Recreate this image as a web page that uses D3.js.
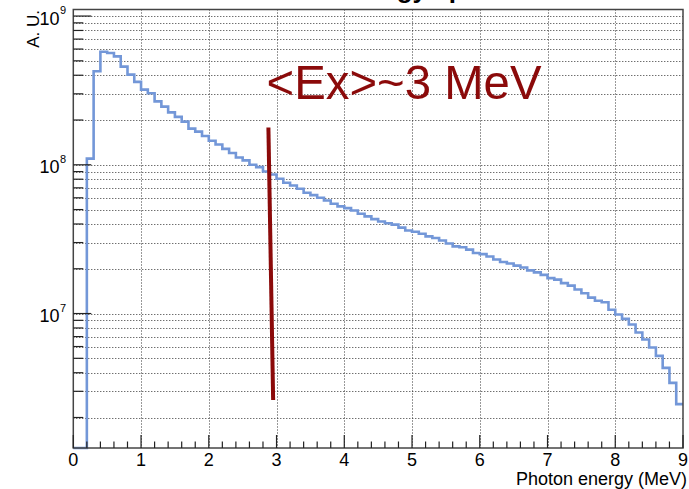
<!DOCTYPE html>
<html>
<head>
<meta charset="utf-8">
<script src="https://cdn.jsdelivr.net/npm/d3@7"></script>
<style>
  body { margin: 0; background: #fff; }
  text { font-family: "Liberation Sans", Arial, sans-serif; }
</style>
</head>
<body>
<script>
// histogram: 90 bins of 0.1 MeV from 0 to 9, counts in units of 1e6
var binWidth = 0.1;
var counts = [
    0, 0, 110, 425, 576, 565, 536, 457, 404, 361,
    320, 303, 267, 246, 225, 210, 195, 175, 167, 156,
    145, 137, 128, 120, 112, 107, 100, 96.4, 90.2, 86.1,
    80.5, 75.7, 72.6, 69.0, 64.9, 62.5, 60.1, 57.6, 54.7, 52.5,
    51.1, 49.3, 46.9, 45.0, 43.1, 41.6, 40.5, 39.6, 37.8, 36.2,
    35.5, 34.4, 33.0, 32.2, 31.0, 29.6, 28.3, 27.9, 26.9, 25.5,
    25.1, 24.2, 23.1, 22.2, 21.7, 21.0, 20.4, 19.5, 18.9, 18.2,
    17.3, 16.9, 16.0, 15.4, 14.5, 13.7, 12.8, 12.2, 11.9, 10.6,
    9.85, 9.21, 8.44, 7.45, 6.69, 5.91, 5.19, 4.31, 3.42, 2.46
];
var countScale = 1e6;

var xTicks = [0, 1, 2, 3, 4, 5, 6, 7, 8, 9];
var yDecades = [7, 8, 9];

// the <Ex> marker and its label
var markerX = [2.88, 2.95];
var markerY = [1.78e8, 2.62e6];
var markerLabel = "<Ex>~3 MeV";

var width = 689,
    height = 489;

var x = d3.scaleLinear()
    .domain([0, 9])
    .range([73.3, 683]);

var y = d3.scaleLog()
    .domain([Math.pow(10, 6.096), Math.pow(10, 9.044)])
    .range([448, 9.5]);

var svg = d3.select("body").append("svg")
    .attr("width", width)
    .attr("height", height);

var x0 = x.range()[0], x1 = x.range()[1],
    yb = y.range()[0], yt = y.range()[1];

// title, mostly cut off at the top of the pad (as in the original)
svg.append("text")
    .attr("x", 245)
    .attr("y", -2)
    .style("font-size", "26px")
    .style("font-weight", "bold")
    .text("Photon energy spectrum");

// grid
var minorY = [];
yDecades.concat([6]).forEach(function(e) {
    d3.range(1, 10).forEach(function(k) {
        var v = k * Math.pow(10, e);
        if (v >= y.domain()[0] && v <= y.domain()[1]) minorY.push(v);
    });
});

var grid = svg.append("g")
    .attr("stroke", "#333")
    .attr("stroke-width", 1)
    .attr("stroke-dasharray", "1,2");

grid.selectAll("line.hg")
    .data(minorY)
    .enter().append("line")
    .attr("class", "hg")
    .attr("x1", x0).attr("x2", x1)
    .attr("y1", function(d) { return Math.round(y(d)) + 0.5; })
    .attr("y2", function(d) { return Math.round(y(d)) + 0.5; });

grid.selectAll("line.vg")
    .data(xTicks.slice(1, -1))
    .enter().append("line")
    .attr("class", "vg")
    .attr("x1", function(d) { return Math.round(x(d)) + 0.5; })
    .attr("x2", function(d) { return Math.round(x(d)) + 0.5; })
    .attr("y1", yt).attr("y2", yb);

// histogram outline
var pts = [[0, y.domain()[0]]];
counts.forEach(function(c, i) {
    var v = c > 0 ? c * countScale : y.domain()[0];
    pts.push([i * binWidth, v]);
    pts.push([(i + 1) * binWidth, v]);
});

var line = d3.line()
    .x(function(d) { return x(d[0]); })
    .y(function(d) { return y(d[1]); });

svg.append("path")
    .datum(pts)
    .attr("d", line)
    .attr("fill", "none")
    .attr("stroke", "#7397d8")
    .attr("stroke-width", 2.6);

// frame
svg.append("rect")
    .attr("x", x0).attr("y", yt)
    .attr("width", x1 - x0).attr("height", yb - yt)
    .attr("fill", "none")
    .attr("stroke", "#444")
    .attr("stroke-width", 1.5);

// y ticks (drawn inside the frame)
var ticks = svg.append("g").attr("stroke", "#222").attr("stroke-width", 1.2);
ticks.selectAll("line.yt")
    .data(minorY)
    .enter().append("line")
    .attr("x1", x0)
    .attr("x2", function(d) { return Math.abs(Math.log10(d) % 1) < 1e-9 ? x0 + 18 : x0 + 10; })
    .attr("y1", function(d) { return y(d); })
    .attr("y2", function(d) { return y(d); });

// x ticks: majors every 1, minors every 0.2
var minorX = d3.range(0, 45).map(function(i) { return i / 5; }).filter(function(d) { return d % 1 !== 0; });
ticks.selectAll("line.xm")
    .data(minorX)
    .enter().append("line")
    .attr("x1", function(d) { return x(d); })
    .attr("x2", function(d) { return x(d); })
    .attr("y1", yb).attr("y2", yb - 6.5);
ticks.selectAll("line.xM")
    .data(xTicks)
    .enter().append("line")
    .attr("x1", function(d) { return x(d); })
    .attr("x2", function(d) { return x(d); })
    .attr("y1", yb).attr("y2", yb - 13);

// tick labels
svg.selectAll("text.xl")
    .data(xTicks)
    .enter().append("text")
    .attr("x", function(d) { return x(d); })
    .attr("y", 466)
    .attr("text-anchor", "middle")
    .style("font-size", "18px")
    .text(function(d) { return d; });

svg.selectAll("text.yl")
    .data(yDecades)
    .enter().append("text")
    .attr("x", 59.5)
    .attr("y", function(d) { return y(Math.pow(10, d)) + 8.5; })
    .attr("text-anchor", "end")
    .style("font-size", "18px")
    .text("10");
svg.selectAll("text.ye")
    .data(yDecades)
    .enter().append("text")
    .attr("x", 60)
    .attr("y", function(d) { return y(Math.pow(10, d)) - 2; })
    .style("font-size", "11px")
    .text(function(d) { return d; });

// axis titles
svg.append("text")
    .attr("x", 687)
    .attr("y", 485)
    .attr("text-anchor", "end")
    .style("font-size", "18px")
    .text("Photon energy (MeV)");

svg.append("text")
    .attr("transform", "translate(39,10) rotate(-90)")
    .attr("text-anchor", "end")
    .style("font-size", "17px")
    .text("A. U.");

// mean energy marker
svg.append("line")
    .attr("x1", x(markerX[0])).attr("y1", y(markerY[0]))
    .attr("x2", x(markerX[1])).attr("y2", y(markerY[1]))
    .attr("stroke", "#8b0a0a")
    .attr("stroke-width", 4);

svg.append("text")
    .attr("x", 266.5)
    .attr("y", 99)
    .attr("fill", "#8b0a0a")
    .attr("textLength", 275)
    .attr("lengthAdjust", "spacingAndGlyphs")
    .style("font-size", "49px")
    .text(markerLabel);
</script>
</body>
</html>
